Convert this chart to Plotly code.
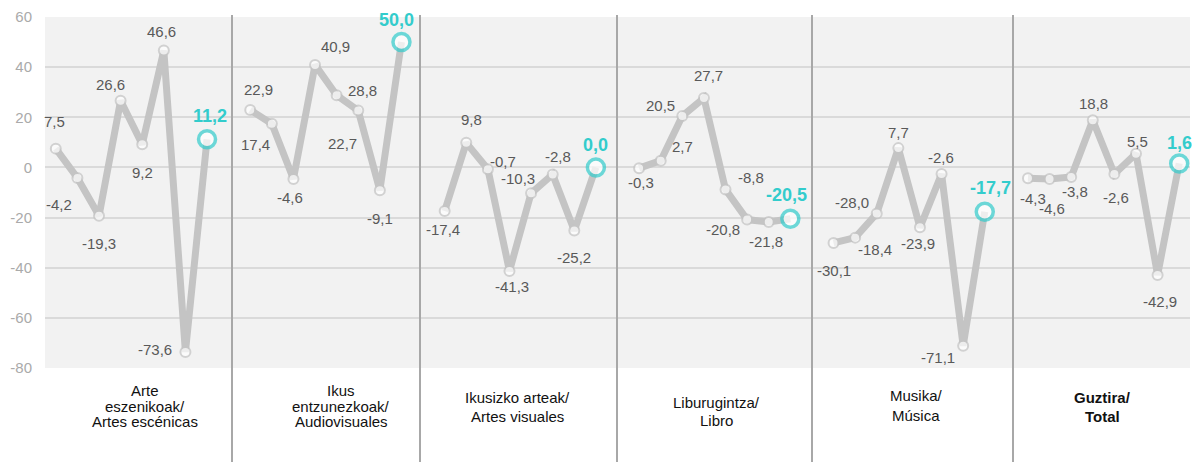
import plotly.graph_objects as go

# ---------------- data ----------------
categories = [
    ["Arte", "eszenikoak/", "Artes escénicas"],
    ["Ikus", "entzunezkoak/", "Audiovisuales"],
    ["Ikusizko arteak/", "Artes visuales"],
    ["Liburugintza/", "Libro"],
    ["Musika/", "Música"],
    ["Guztira/", "Total"],
]
arte_eszenikoak = [7.5, -4.2, -19.3, 26.6, 9.2, 46.6, -73.6, 11.2]
ikus_entzunezkoak = [22.9, 17.4, -4.6, 40.9, 28.8, 22.7, -9.1, 50.0]
ikusizko_arteak = [-17.4, 9.8, -0.7, -41.3, -10.3, -2.8, -25.2, 0.0]
liburugintza = [-0.3, 2.7, 20.5, 27.7, -8.8, -20.8, -21.8, -20.5]
musika = [-30.1, -28.0, -18.4, 7.7, -23.9, -2.6, -71.1, -17.7]
guztira = [-4.3, -4.6, -3.8, 18.8, -2.6, 5.5, -42.9, 1.6]
series = [arte_eszenikoak, ikus_entzunezkoak, ikusizko_arteak, liburugintza, musika, guztira]
y_ticks = [-80, -60, -40, -20, 0, 20, 40, 60]

# ---------------- layout helpers (pixel offsets of value labels) ----------------
label_offsets = [
    [(-1, -27), (-18, 27), (0, 28), (-10, -16), (0, 28), (-2, -19), (-30, -2), (3, -23)],
    [(8, -21), (-16, 21), (-3, 19), (20, -18), (26, -5), (-16, 33), (0, 28), (-5, -22)],
    [(-2, 18), (5, -23), (15, -8), (3, 16), (-13, -15), (5, -18), (0, 27), (0, -22)],
    [(2, 14), (22, -14), (-22, -11), (5, -22), (25, -12), (-24, 10), (-3, 19), (-4, -24)],
    [(0, 28), (-3, -35), (-2, 36), (0, -16), (-2, 16), (-1, -16), (-25, 12), (6, -24)],
    [(5, 20), (2, 30), (4, 15), (1, -17), (2, 24), (2, -12), (2, 27), (0, -20)],
]
cat_label_px_x = [145, 341, 517, 716, 916, 1102]
cat_label_px_y = [[391, 406, 421], [391, 406, 421], [398, 416], [402, 420], [395, 415], [397, 416]]
separator_px = [232, 420, 617, 812, 1013]

W, H = 1192, 462
ML, MR, MT, MB = 45, 2, 17, 94
PW = W - ML - MR
PH = H - MT - MB

GREY_LINE = "#c4c4c4"
CYAN = "#33cccc"
LABEL_GREY = "#595959"
FONT = "Arial, 'Liberation Sans', sans-serif"

def fmt(v):
    return f"{v:.1f}".replace(".", ",")

fig = go.Figure()
annotations = []
slot = 0
for g, vals in enumerate(series):
    n = len(vals)
    xs = list(range(slot, slot + n))
    sizes = [10] * (n - 1) + [17]
    lcols = [GREY_LINE] * (n - 1) + [CYAN]
    lwid = [2] * (n - 1) + [3.5]
    fig.add_trace(go.Scatter(
        x=xs, y=vals, mode="lines+markers",
        line=dict(color=GREY_LINE, width=7),
        marker=dict(size=sizes, color="white", line=dict(color=lcols, width=lwid)),
        hoverinfo="skip", showlegend=False,
    ))
    for i, (x, v) in enumerate(zip(xs, vals)):
        dx, dy = label_offsets[g][i]
        last = i == n - 1
        annotations.append(dict(
            x=x, y=v, xref="x", yref="y", text=fmt(v), showarrow=False,
            xshift=dx, yshift=-dy, xanchor="center", yanchor="middle",
            font=dict(family=FONT, size=18 if last else 15,
                      color=CYAN if last else LABEL_GREY,
                      weight="bold" if last else "normal"),
        ))
    slot += n + 1

# category labels
for g, lines in enumerate(categories):
    bold = g == len(categories) - 1
    for j, line in enumerate(lines):
        annotations.append(dict(
            x=(cat_label_px_x[g] - ML) / PW, y=(MT + PH - cat_label_px_y[g][j]) / PH,
            xref="paper", yref="paper", text=line, showarrow=False,
            xanchor="center", yanchor="middle",
            font=dict(family=FONT, size=15, color="#111111",
                      weight="bold" if bold else "normal"),
        ))

shapes = []
for px in separator_px:
    xp = (px - ML) / PW
    shapes.append(dict(type="line", xref="paper", yref="paper",
                       x0=xp, x1=xp, y0=(MT + PH - H) / PH, y1=(MT + PH - 15) / PH,
                       line=dict(color="#a8a8a8", width=2), layer="above"))

fig.update_layout(
    width=W, height=H,
    margin=dict(l=ML, r=MR, t=MT, b=MB, pad=0),
    paper_bgcolor="white", plot_bgcolor="#f2f2f2",
    annotations=annotations, shapes=shapes,
    font=dict(family=FONT),
    xaxis=dict(range=[-0.5, slot - 1.5], showgrid=False, zeroline=False,
               showticklabels=False, showline=False, ticks=""),
    yaxis=dict(range=[-80, 60], tickmode="array", tickvals=y_ticks,
               ticktext=[str(t) for t in y_ticks],
               tickfont=dict(family=FONT, size=15, color="#aaaaaa"),
               showgrid=True, gridcolor="#dadada", gridwidth=2,
               zeroline=False, showline=False, ticks="", ticklabelstandoff=12),
)

fig.write_html(
    "out.html",
    config={"displayModeBar": False},
    post_script="document.body.style.margin='0';document.body.style.overflow='hidden';",
)
